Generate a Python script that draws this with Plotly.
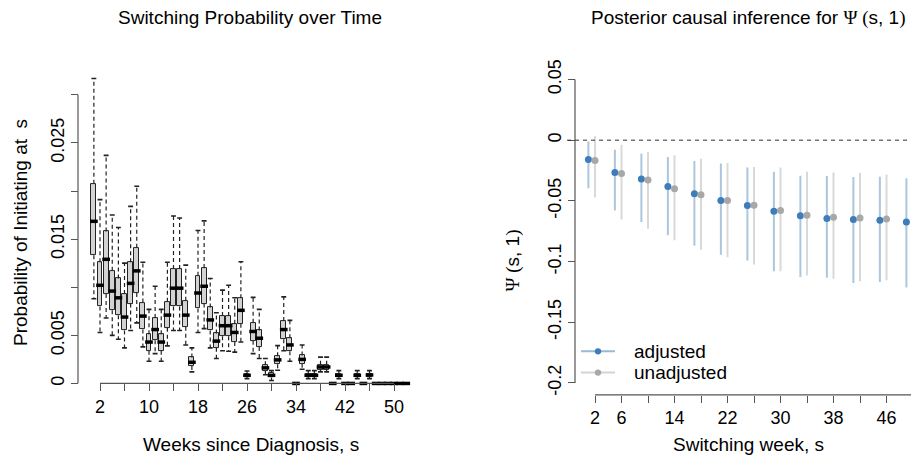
import plotly.graph_objects as go

W, H = 911, 456

# ---------------- Left panel data: switching probability by week ----------------
weeks = list(range(1, 53))
upper = [0.0317, 0.0191, 0.0237, 0.0175, 0.0162, 0.0125, 0.0184, 0.0205, 0.0126, 0.0077,
         0.0101, 0.0077, 0.0126, 0.0174, 0.0172, 0.0123, 0.0037, 0.0159, 0.0169, 0.0109,
         0.00735, 0.0097, 0.0102, 0.0089, 0.01265, 0.0013, 0.00895, 0.0077, 0.0026, 0.00133,
         0.00393, 0.0090, 0.00655, 0.0, 0.0040, 0.00133, 0.00133, 0.00274, 0.00274, 0.0,
         0.00133, 0.0, 0.0, 0.00133, 0.0, 0.00133, 0.0, 0.0, 0.0, 0.0, 0.0, 0.0]
q3 = [0.02075, 0.0126, 0.0158, 0.0117, 0.0109, 0.0093, 0.0126, 0.0141, 0.0084, 0.0051,
      0.0068, 0.0051, 0.0085, 0.0119, 0.0119, 0.0086, 0.0027, 0.0112, 0.0120, 0.0079,
      0.0052, 0.0070, 0.0070, 0.0062, 0.00885, 0.0010, 0.0063, 0.0055, 0.00188, 0.0011,
      0.00282, 0.0065, 0.0047, 0.0, 0.0029, 0.0010, 0.0010, 0.00195, 0.00195, 0.0,
      0.0010, 0.0, 0.0, 0.0010, 0.0, 0.0010, 0.0, 0.0, 0.0, 0.0, 0.0, 0.0]
median = [0.01685, 0.0102, 0.0129, 0.0096, 0.0089, 0.0069, 0.0104, 0.0117, 0.0070, 0.0043,
          0.0056, 0.0043, 0.0071, 0.0099, 0.0099, 0.0071, 0.0022, 0.0094, 0.0101, 0.0066,
          0.0044, 0.0060, 0.0060, 0.0053, 0.0076, 0.00085, 0.0054, 0.0047, 0.00162, 0.00084,
          0.00245, 0.0056, 0.0040, 0.0, 0.0025, 0.00085, 0.00085, 0.00171, 0.00171, 0.0,
          0.00085, 0.0, 0.0, 0.00085, 0.0, 0.00088, 0.0, 0.0, 0.0, 0.0, 0.0, 0.0]
q1 = [0.01333, 0.0080, 0.0093, 0.0076, 0.0071, 0.0055, 0.0083, 0.0094, 0.0056, 0.0034,
      0.0045, 0.0034, 0.0058, 0.0080, 0.0080, 0.0059, 0.0018, 0.0078, 0.0083, 0.0055,
      0.0037, 0.0049, 0.0049, 0.0043, 0.0062, 0.0007, 0.00445, 0.0038, 0.00132, 0.00062,
      0.0020, 0.0046, 0.00335, 0.0, 0.00205, 0.0007, 0.0007, 0.00144, 0.00144, 0.0,
      0.0007, 0.0, 0.0, 0.0007, 0.0, 0.0007, 0.0, 0.0, 0.0, 0.0, 0.0, 0.0]
lower = [0.0088, 0.0053, 0.0068, 0.0050, 0.0046, 0.0037, 0.0055, 0.0063, 0.0038, 0.0023,
         0.0031, 0.0023, 0.0039, 0.0055, 0.0055, 0.0040, 0.0012, 0.0053, 0.0057, 0.0037,
         0.0026, 0.0034, 0.00335, 0.00325, 0.0043, 0.0005, 0.0031, 0.0026, 0.0009, 0.0003,
         0.00137, 0.0034, 0.0023, 0.0, 0.00147, 0.0005, 0.0005, 0.0012, 0.0012, 0.0,
         0.0005, 0.0, 0.0, 0.0005, 0.0, 0.0005, 0.0, 0.0, 0.0, 0.0, 0.0, 0.0]

left_xticks = list(range(2, 51, 4))
left_xlabels = [str(v) if (v - 2) % 8 == 0 else "" for v in left_xticks]
left_yticks = [0, 0.005, 0.01, 0.015, 0.02, 0.025, 0.03]
left_ylabels = ["0", "0.005", "", "0.015", "", "0.025", ""]

# ---------------- Right panel data: posterior causal effect ----------------
s_weeks = [2, 6, 10, 14, 18, 22, 26, 30, 34, 38, 42, 46, 50]
adj_est = [-0.0160, -0.0266, -0.0320, -0.0382, -0.0442, -0.0496, -0.0539, -0.0585, -0.0623,
           -0.0645, -0.0653, -0.0659, -0.0675]
adj_lo = [-0.0396, -0.0580, -0.0675, -0.0783, -0.0870, -0.0943, -0.0992, -0.1079, -0.1127,
          -0.1133, -0.1176, -0.1168, -0.1214]
adj_hi = [-0.0010, -0.0079, -0.0111, -0.0138, -0.0171, -0.0192, -0.0225, -0.0260, -0.0293,
          -0.0295, -0.0304, -0.0301, -0.0314]
unadj_est = [-0.0168, -0.0274, -0.0328, -0.0401, -0.0450, -0.0496, -0.0537, -0.0580, -0.0618,
             -0.0634, -0.0642, -0.0650]
unadj_lo = [-0.0472, -0.0653, -0.0729, -0.0824, -0.0902, -0.0965, -0.1024, -0.1079, -0.1114,
            -0.1141, -0.1163, -0.1154]
unadj_hi = [0.0033, -0.0038, -0.0098, -0.0125, -0.0152, -0.0187, -0.0220, -0.0225, -0.0260,
            -0.0266, -0.0268, -0.0282]

right_xticks = list(range(2, 51, 4))
right_xlabels = [str(v) if v in (2, 6, 14, 22, 30, 38, 46) else "" for v in right_xticks]
right_yticks = [-0.2, -0.15, -0.1, -0.05, 0, 0.05]
right_ylabels = ["-0.2", "-0.15", "-0.1", "-0.05", "0", "0.05"]

legend_names = ["adjusted", "unadjusted"]

FONT = "Liberation Sans, Arial, sans-serif"
AXC = "#555555"

fig = go.Figure()

# whiskers (dashed)
wx, wy = [], []
for w, lo, a, b, hi in zip(weeks, lower, q1, q3, upper):
    if hi > b:
        wx += [w, w, None]
        wy += [b, hi, None]
    if lo < a:
        wx += [w, w, None]
        wy += [a, lo, None]
fig.add_trace(go.Scatter(x=wx, y=wy, mode="lines", line=dict(color="#222", width=1.2, dash="4px,3px"),
                         xaxis="x", yaxis="y", showlegend=False, hoverinfo="skip"))

# staples
sx, sy = [], []
for w, lo, a, b, hi in zip(weeks, lower, q1, q3, upper):
    if hi > b:
        sx.append(w); sy.append(hi)
    if lo < a:
        sx.append(w); sy.append(lo)
fig.add_trace(go.Scatter(x=sx, y=sy, mode="markers",
                         marker=dict(symbol="line-ew", size=3.5, line=dict(color="#222", width=1.6)),
                         xaxis="x", yaxis="y", showlegend=False, hoverinfo="skip"))

# boxes
fig.add_trace(go.Bar(x=weeks, base=q1, y=[b - a for a, b in zip(q1, q3)], width=0.8,
                     marker=dict(color="#D3D3D3", line=dict(color="#222", width=1)),
                     xaxis="x", yaxis="y", showlegend=False))

# medians
fig.add_trace(go.Scatter(x=weeks, y=median, mode="markers", cliponaxis=False,
                         marker=dict(symbol="line-ew", size=5.5, line=dict(color="black", width=3.5)),
                         xaxis="x", yaxis="y", showlegend=False, hoverinfo="skip"))

# right panel
BLUE = "#3E7DBA"
BLUE_L = "rgba(70,130,180,0.45)"
GRAY = "#A8A8A8"
GRAY_L = "rgba(170,170,170,0.45)"

fig.add_trace(go.Scatter(
    x=[w - 1 for w in s_weeks], y=adj_est, mode="markers", name=legend_names[0],
    marker=dict(color=BLUE, size=7),
    error_y=dict(type="data", symmetric=False,
                 array=[h - e for h, e in zip(adj_hi, adj_est)],
                 arrayminus=[e - l for e, l in zip(adj_est, adj_lo)],
                 color=BLUE_L, thickness=2, width=0),
    xaxis="x2", yaxis="y2", showlegend=False))
fig.add_trace(go.Scatter(
    x=s_weeks[:len(unadj_est)], y=unadj_est, mode="markers", name=legend_names[1],
    marker=dict(color=GRAY, size=7),
    error_y=dict(type="data", symmetric=False,
                 array=[h - e for h, e in zip(unadj_hi, unadj_est)],
                 arrayminus=[e - l for e, l in zip(unadj_est, unadj_lo)],
                 color=GRAY_L, thickness=2, width=0),
    xaxis="x2", yaxis="y2", showlegend=False))

PX = 1.0 / W
def fy(py):
    return (H - py) / H

left_y0, left_y1 = 384.5, 70
left_ymax = (left_y0 - left_y1) / 9750.0
right_y0, right_y1 = 396, 60
r_zero, r_scale = 138, 1230.0

axis_common = dict(showgrid=False, zeroline=False, showline=False, ticks="outside", ticklen=7,
                   tickwidth=1.2, tickcolor=AXC, tickfont=dict(size=18, color="black", family=FONT))

fig.update_layout(
    width=W, height=H, margin=dict(l=0, r=0, t=0, b=0),
    paper_bgcolor="white", plot_bgcolor="white",
    font=dict(family=FONT, size=18, color="black"),
    xaxis=dict(domain=[78 * PX, 412 * PX], range=[2 - 22 / 6.125, 2 + 312 / 6.125],
               tickvals=left_xticks, ticktext=left_xlabels, anchor="y", **axis_common),
    yaxis=dict(domain=[fy(left_y0), fy(left_y1)], range=[0, left_ymax],
               tickvals=left_yticks, ticktext=left_ylabels, tickangle=-90,
               anchor="free", position=78 * PX, **axis_common),
    xaxis2=dict(domain=[567 * PX, 1.0], range=[2 - 28 / 6.625, 2 + 316 / 6.625],
                tickvals=right_xticks, ticktext=right_xlabels, anchor="y2", **axis_common),
    yaxis2=dict(domain=[fy(right_y0), fy(right_y1)],
                range=[(r_zero - right_y0) / r_scale, (r_zero - right_y1) / r_scale],
                tickvals=right_yticks, ticktext=right_ylabels, tickangle=-90,
                anchor="free", position=575 * PX, **axis_common),
    bargap=0,
    showlegend=False,
)

shapes = [
    dict(type="line", xref="paper", yref="y", x0=78 * PX, x1=78 * PX, y0=0, y1=0.03,
         line=dict(color=AXC, width=1.2)),
    dict(type="line", xref="x", yref="paper", x0=2, x1=50, y0=fy(left_y0), y1=fy(left_y0),
         line=dict(color=AXC, width=1.2)),
    dict(type="line", xref="paper", yref="y2", x0=575 * PX, x1=575 * PX, y0=-0.2, y1=0.05,
         line=dict(color=AXC, width=1.2)),
    dict(type="line", xref="x2", yref="paper", x0=2, x1=50, y0=fy(right_y0), y1=fy(right_y0),
         line=dict(color=AXC, width=1.2)),
    dict(type="line", xref="x2 domain", yref="y2", x0=0, x1=1, y0=0, y1=0,
         line=dict(color="#333", width=1, dash="4px,4px")),
]

# manual legend (keys + labels)
leg_rows = [(352, "rgba(70,130,180,0.55)", BLUE), (373.5, "rgba(170,170,170,0.5)", GRAY)]
for py, lc, mc in leg_rows:
    shapes.append(dict(type="line", xref="paper", yref="paper", x0=581 * PX, x1=615 * PX,
                       y0=fy(py), y1=fy(py), line=dict(color=lc, width=2)))
    shapes.append(dict(type="circle", xref="paper", yref="paper",
                       x0=(598 - 3.2) * PX, x1=(598 + 3.2) * PX, y0=fy(py + 3.2), y1=fy(py - 3.2),
                       fillcolor=mc, line=dict(color=mc, width=0)))
fig.update_layout(shapes=shapes)

ann = [
    dict(text="Switching Probability over Time", x=250 * PX, y=fy(14), size=19, angle=0),
    dict(text='Posterior causal inference for <span style="font-family:Liberation Serif">\u03a8 (</span>s, 1'
              '<span style="font-family:Liberation Serif">)</span>', x=748 * PX, y=fy(14), size=19, angle=0),
    dict(text="Weeks since Diagnosis, s", x=251 * PX, y=fy(446), size=19, angle=0),
    dict(text="Switching week, s", x=748 * PX, y=fy(446), size=19, angle=0),
    dict(text="Probability of Initiating at\u00a0 s", x=21 * PX, y=fy(232), size=19, angle=-90),
    dict(text='<span style="font-family:Liberation Serif">\u03a8 (</span>s, 1'
              '<span style="font-family:Liberation Serif">)</span>', x=513 * PX, y=fy(260), size=19, angle=-90),
]
annotations = [
    dict(text=a["text"], x=a["x"], y=a["y"], xref="paper", yref="paper", showarrow=False,
         xanchor="center", yanchor="middle", textangle=a["angle"],
         font=dict(size=a["size"], family=FONT, color="black"))
    for a in ann
]
for (py, lc, mc), name in zip(leg_rows, legend_names):
    annotations.append(dict(text=name, x=632 * PX, y=fy(py), xref="paper", yref="paper",
                            showarrow=False, xanchor="left", yanchor="middle",
                            font=dict(size=19, family=FONT, color="black")))
fig.update_layout(annotations=annotations)

fig.write_html("out.html", config={"displayModeBar": False},
               post_script="document.body.style.margin='0';document.body.style.overflow='hidden';")
